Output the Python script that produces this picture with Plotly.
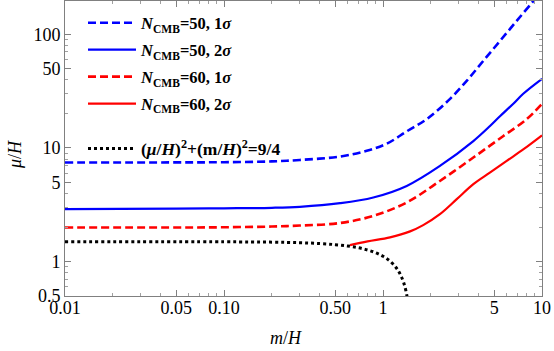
import plotly.graph_objects as go

# ---- data ----
m_b1 = [0.01, 0.05, 0.1, 0.2, 0.3, 0.537, 0.79, 1.055, 1.41, 1.88, 2.58, 3.36, 4.27, 5.44, 6.93, 8.8, 10]
mu_b1 = [7.45, 7.47, 7.5, 7.62, 7.85, 8.41, 9.45, 10.9, 14.0, 17.9, 26.2, 38.9, 58.2, 87.2, 131, 195, 245]

m_b2 = [0.01, 0.05, 0.1, 0.2, 0.3, 0.537, 0.869, 1.41, 2.28, 3.7, 4.71, 5.44, 6.6, 7.62, 10]
mu_b2 = [2.9, 2.93, 2.95, 2.98, 3.04, 3.27, 3.67, 4.64, 6.95, 11.5, 15.6, 19.0, 24.5, 30.0, 40.6]

m_r1 = [0.01, 0.05, 0.1, 0.2, 0.3, 0.537, 0.869, 1.41, 2.28, 3.7, 5.69, 8.0, 10]
mu_r1 = [2.0, 2.0, 2.01, 2.04, 2.08, 2.19, 2.53, 3.32, 5.13, 8.24, 12.7, 17.9, 24.4]

m_r2 = [0.62, 0.8, 1.107, 1.48, 1.79, 2.28, 2.91, 3.7, 4.7, 6.0, 7.7, 10]
mu_r2 = [1.40, 1.51, 1.64, 1.85, 2.10, 2.62, 3.55, 4.81, 6.07, 7.7, 9.8, 12.9]

m_bd = [0.01, 0.1, 0.2, 0.3, 0.4, 0.5, 0.6, 0.7, 0.8, 0.9, 1.0, 1.1, 1.2, 1.25, 1.3, 1.35, 1.4, 1.43, 1.45]
mu_bd = [1.5, 1.497, 1.487, 1.47, 1.446, 1.414, 1.375, 1.327, 1.269, 1.2, 1.118, 1.02, 0.9, 0.83, 0.748, 0.654, 0.539, 0.453, 0.384]

names = [
    "<b><i>N</i><sub>CMB</sub>=50, 1<i>σ</i></b>",
    "<b><i>N</i><sub>CMB</sub>=50, 2<i>σ</i></b>",
    "<b><i>N</i><sub>CMB</sub>=60, 1<i>σ</i></b>",
    "<b><i>N</i><sub>CMB</sub>=60, 2<i>σ</i></b>",
    "<b>(<i>μ</i>/<i>H</i>)<sup>2</sup>+(m/<i>H</i>)<sup>2</sup>=9/4</b>",
]

x_tickvals = [0.01, 0.05, 0.1, 0.5, 1, 5, 10]
x_ticktext = ["0.01", "0.05", "0.10", "0.50", "1", "5", "10"]
y_tickvals = [0.5, 1, 5, 10, 50, 100]
y_ticktext = ["0.5", "1", "5", "10", "50", "100"]

x_minor = [d * k for d in (0.01, 0.1, 1) for k in range(2, 10) if d * k not in (0.05, 0.5, 5)]
y_minor = [d * k for d in (0.1, 1, 10, 100) for k in range(2, 10) if 0.5 < d * k < 200 and d * k not in (5, 50)]

BLUE = "#0000ff"
RED = "#ff0000"
FONT = "Liberation Serif"

def line(color, width, dash=None):
    d = dict(color=color, width=width, shape="spline", smoothing=1, simplify=False)
    if dash:
        d["dash"] = dash
    return d

fig = go.Figure()
fig.add_trace(go.Scatter(x=m_b1, y=mu_b1, mode="lines", name=names[0], legendgroup="a",
                         line=line(BLUE, 2.6, "8px,4px"), legend="legend"))
fig.add_trace(go.Scatter(x=m_b2, y=mu_b2, mode="lines", name=names[1], legendgroup="b",
                         line=line(BLUE, 2.2), legend="legend"))
fig.add_trace(go.Scatter(x=m_r1, y=mu_r1, mode="lines", name=names[2], legendgroup="c",
                         line=line(RED, 2.6, "8px,4px"), legend="legend"))
fig.add_trace(go.Scatter(x=m_r2, y=mu_r2, mode="lines", name=names[3], legendgroup="d",
                         line=line(RED, 2.2), legend="legend"))
fig.add_trace(go.Scatter(x=m_bd, y=mu_bd, mode="lines", name=names[4], legendgroup="e",
                         line=line("black", 3, "3px,3px"), legend="legend2"))

axis_common = dict(
    type="log", showgrid=False, zeroline=False, showline=True, linecolor="#808080", linewidth=1,
    mirror="ticks", ticks="inside", ticklen=6, tickcolor="#808080", tickwidth=1,
    tickfont=dict(family=FONT, size=18, color="black"), automargin=False,
)

fig.update_xaxes(**axis_common, range=[-2, 1], tickmode="array", tickvals=x_tickvals, ticktext=x_ticktext,
                 tickangle=0, ticklabelstandoff=-5,
                 minor=dict(tickmode="array", tickvals=x_minor, ticks="inside", ticklen=3,
                            tickcolor="#a0a0a0", showgrid=False))
fig.update_yaxes(**axis_common, range=[-0.30103, 2.292], tickmode="array", tickvals=y_tickvals, ticktext=y_ticktext,
                 minor=dict(tickmode="array", tickvals=y_minor, ticks="inside", ticklen=3,
                            tickcolor="#a0a0a0", showgrid=False))

PLOT_L, PLOT_R, PLOT_T, PLOT_B = 65, 542, 1, 296
PW, PH = PLOT_R - PLOT_L, PLOT_B - PLOT_T

legend_common = dict(bgcolor="rgba(0,0,0,0)", borderwidth=0, itemwidth=48, xref="paper", yref="paper",
                     xanchor="left", yanchor="top", tracegroupgap=2.5)

fig.update_layout(
    width=554, height=351,
    margin=dict(l=PLOT_L, r=554 - PLOT_R, t=PLOT_T, b=351 - PLOT_B, autoexpand=False),
    paper_bgcolor="white", plot_bgcolor="white",
    showlegend=True,
    legend=dict(**legend_common, font=dict(family=FONT, size=16.5, color="black"),
                x=(83 - PLOT_L) / PW, y=1 - (5.5 - PLOT_T) / PH),
    legend2=dict(**legend_common, font=dict(family=FONT, size=17.5, color="black"),
                 x=(83 - PLOT_L) / PW, y=1 - (130.5 - PLOT_T) / PH),
    annotations=[
        dict(text="<i>m</i>/<i>H</i>", xref="paper", yref="paper", x=(286 - PLOT_L) / PW,
             y=(PLOT_B - 338) / PH,
             showarrow=False, font=dict(family=FONT, size=18, color="black"), xanchor="center", yanchor="middle"),
        dict(text="<i>μ</i>/<i>H</i>", xref="paper", yref="paper", x=(15 - PLOT_L) / PW,
             y=(PLOT_B - 155) / PH,
             showarrow=False, textangle=-90, font=dict(family=FONT, size=18, color="black"),
             xanchor="center", yanchor="middle"),
    ],
)

fig.write_html("out.html", config={"displayModeBar": False},
               post_script="document.body.style.margin='0px';")
